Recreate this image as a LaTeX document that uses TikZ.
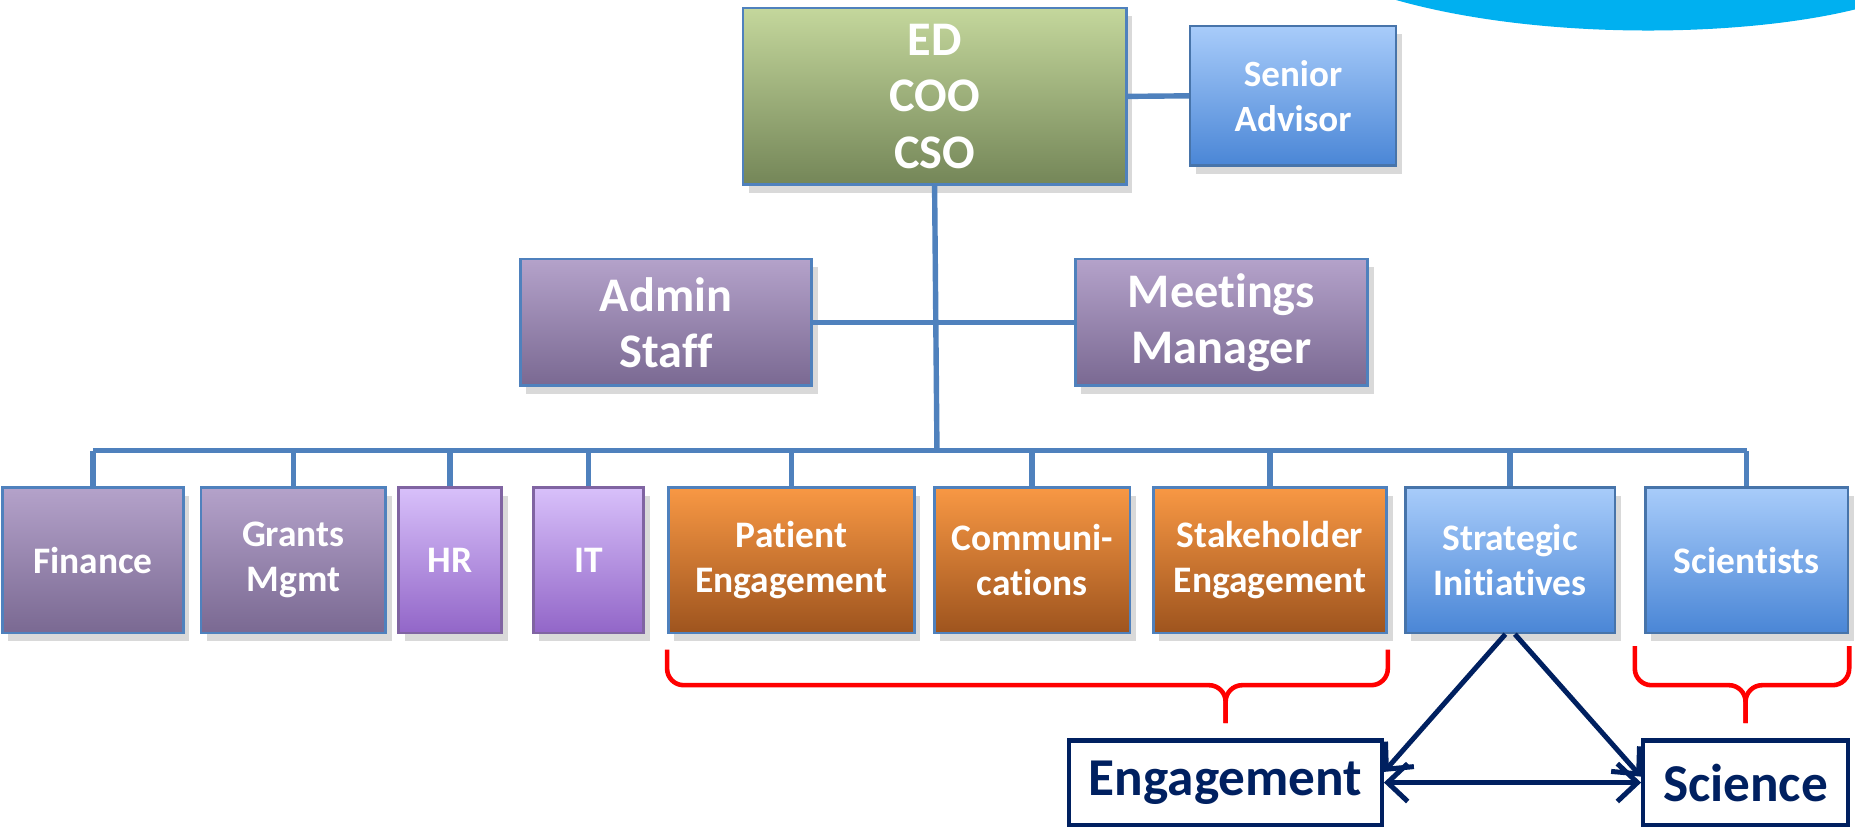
\documentclass[tikz,border=0pt]{standalone}
\usepackage{fontspec}
\setmainfont{Carlito}[Ligatures=NoCommon]
\usetikzlibrary{shadows,arrows.meta}

\definecolor{linkblue}{HTML}{4F81BD}
\definecolor{navy}{HTML}{002060}
\definecolor{swoosh}{HTML}{00B0F0}
\definecolor{greentop}{RGB}{196,215,156}
\definecolor{greenbot}{RGB}{116,134,88}
\definecolor{greytop}{RGB}{180,162,202}
\definecolor{greybot}{RGB}{122,105,146}
\definecolor{lilactop}{RGB}{216,192,250}
\definecolor{lilacbot}{RGB}{146,102,200}
\definecolor{lilacline}{RGB}{128,100,162}
\definecolor{orangetop}{RGB}{248,152,68}
\definecolor{orangebot}{RGB}{158,84,30}
\definecolor{bluetop}{RGB}{168,204,250}
\definecolor{bluebot}{RGB}{74,134,214}

\tikzset{
  box/.style={draw=linkblue, line width=0.6pt, text=white, align=center, inner sep=0pt,
    drop shadow={shadow xshift=0.5mm, shadow yshift=-0.7mm, opacity=0.3}},
  greenbox/.style={box, top color=greentop, bottom color=greenbot},
  greybox/.style={box, top color=greytop, bottom color=greybot},
  lilacbox/.style={box, draw=lilacline, top color=lilactop, bottom color=lilacbot},
  orangebox/.style={box, top color=orangetop, bottom color=orangebot},
  bluebox/.style={box, draw=linkblue!90!black, top color=bluetop, bottom color=bluebot},
  bigfont/.style={font=\bfseries\fontsize{11.6}{13.5}\selectfont},
  smallfont/.style={font=\bfseries\fontsize{8.9}{10.8}\selectfont},
  rowbox/.style={minimum height=1.23cm, font=\bfseries\fontsize{9}{10.8}\selectfont},
  link/.style={draw=linkblue, line width=1.3pt},
  bracket/.style={draw=red, line width=1.1pt, rounded corners=1.4mm},
  tagbox/.style={draw=navy, line width=1pt, fill=white, text=navy, minimum height=0.71cm,
    font=\bfseries\fontsize{12.8}{15}\selectfont},
  navylink/.style={draw=navy, line width=1.2pt, >={Straight Barb[length=1.7mm,width=3.2mm]}}
}

\begin{document}
\begin{tikzpicture}[x=0.01cm, y=-0.01cm]
  \useasboundingbox (0,0) rectangle (1568,701);

  % corner swoosh
  \fill[swoosh] (1180,0) .. controls (1300,34) and (1470,32) .. (1568,8) -- (1568,0) -- cycle;

  % top boxes
  \node[greenbox, bigfont, minimum width=3.24cm, minimum height=1.49cm] (ed) at (790,81.5) {ED\\COO\\CSO};
  \node[bluebox, smallfont, minimum width=1.74cm, minimum height=1.18cm] (advisor) at (1093,81) {Senior\\Advisor};
  \node[greybox, bigfont, minimum width=2.46cm, minimum height=1.07cm] (admin) at (563,272.5) {Admin\\Staff};
  \node[greybox, bigfont, minimum width=2.47cm, minimum height=1.07cm] (meetings) at (1032.5,272.5) {Meetings\\Manager};

  % bottom row
  \node[greybox, rowbox, minimum width=1.53cm] (finance) at (78.5,473.5) {Finance};
  \node[greybox, rowbox, minimum width=1.56cm] (grants) at (248,473.5) {Grants\\Mgmt};
  \node[lilacbox, rowbox, minimum width=0.87cm] (hr) at (380.5,473.5) {HR};
  \node[lilacbox, rowbox, minimum width=0.93cm] (it) at (497.5,473.5) {IT};
  \node[orangebox, rowbox, minimum width=2.08cm] (patient) at (669,473.5) {Patient\\Engagement};
  \node[orangebox, rowbox, minimum width=1.65cm] (comms) at (872.5,473.5) {Communi-\\cations};
  \node[orangebox, rowbox, minimum width=1.97cm] (stake) at (1073.5,473.5) {Stakeholder\\Engagement};
  \node[bluebox, rowbox, minimum width=1.77cm] (strat) at (1276.5,473.5) {Strategic\\Initiatives};
  \node[bluebox, rowbox, minimum width=1.71cm] (sci) at (1476.5,473.5) {Scientists};

  % groups
  \node[tagbox, minimum width=2.64cm] (engage) at (1036,661.5) {Engagement};
  \node[tagbox, minimum width=1.73cm] (science) at (1475.5,661.5) {Science};

  % tree lines
  \coordinate (bus) at (792,381);
  \draw[link] (ed.east) -- (advisor.west);
  \draw[link] (ed.south) -- (bus);
  \draw[link] (admin.east) -- (meetings.west);
  \draw[link] (finance.north |- bus) -- (sci.north |- bus);
  \draw[link] (finance.north) -- (finance.north |- bus)
              (grants.north) -- (grants.north |- bus)
              (hr.north) -- (hr.north |- bus)
              (it.north) -- (it.north |- bus)
              (patient.north) -- (patient.north |- bus)
              (comms.north) -- (comms.north |- bus)
              (stake.north) -- (stake.north |- bus)
              (strat.north) -- (strat.north |- bus)
              (sci.north) -- (sci.north |- bus);

  % brackets
  \draw[bracket] ([yshift=-1.3mm]patient.south west) |- ([yshift=4.5mm]engage.north) -- ([yshift=1.3mm]engage.north);
  \draw[bracket] ([yshift=-1.3mm]stake.south east) |- ([yshift=4.5mm]engage.north) -- ([yshift=1.3mm]engage.north);
  \draw[bracket] ([xshift=-0.8mm,yshift=-1mm]sci.south west) |- ([yshift=4.5mm]science.north) -- ([yshift=1.3mm]science.north);
  \draw[bracket] ([yshift=-1mm]sci.south east) |- ([yshift=4.5mm]science.north) -- ([yshift=1.3mm]science.north);

  % arrows
  \draw[navylink, ->] ([xshift=-0.4mm]strat.south) -- ([yshift=0.9mm]engage.east);
  \draw[navylink, ->] ([xshift=0.4mm]strat.south) -- ([yshift=0.5mm]science.west);
  \draw[navylink, <->] (engage.east) -- (science.west);
\end{tikzpicture}
\end{document}
